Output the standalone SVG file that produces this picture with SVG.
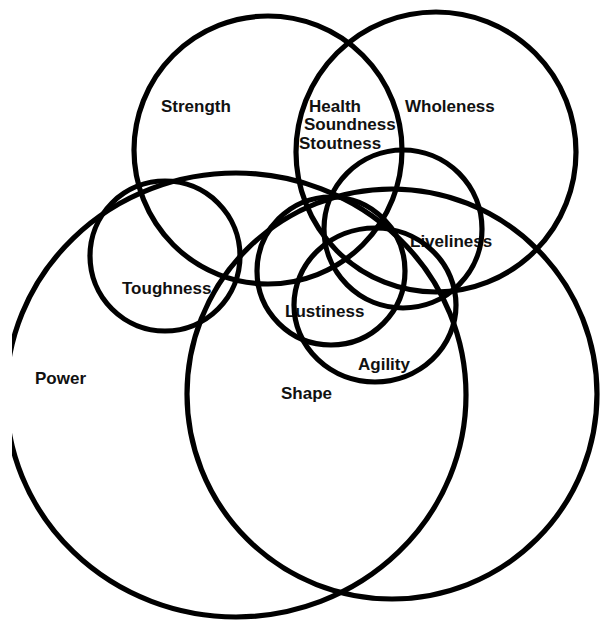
<svg xmlns="http://www.w3.org/2000/svg" width="601" height="620" viewBox="0 0 601 620">
<style>
.c{fill:none;stroke:#000;stroke-width:5.2}
.t{font-family:"Liberation Sans",Arial,sans-serif;font-weight:bold;font-size:17px;fill:#111}
</style>
<rect width="601" height="620" fill="#fff"/>
<g id="labels">
<text class="t" x="161" y="112">Strength</text>
<text class="t" x="309" y="112">Health</text>
<text class="t" x="304" y="130">Soundness</text>
<text class="t" x="299" y="149">Stoutness</text>
<text class="t" x="405" y="112">Wholeness</text>
<text class="t" x="410" y="247">Liveliness</text>
<text class="t" x="122" y="294">Toughness</text>
<text class="t" x="285" y="317">Lustiness</text>
<text class="t" x="358" y="370">Agility</text>
<text class="t" x="35" y="384">Power</text>
<text class="t" x="281" y="399">Shape</text>
</g>
<g id="power"><ellipse class="c" cx="236" cy="395" rx="230" ry="222"/></g>
<g id="shape"><circle class="c" cx="392" cy="394" r="205"/></g>
<g id="strength"><circle class="c" cx="268" cy="150" r="134"/></g>
<g id="wholeness"><circle class="c" cx="436" cy="152" r="140"/></g>
<g id="toughness"><circle class="c" cx="165" cy="256" r="75"/></g>
<g id="liveliness"><circle class="c" cx="403" cy="229" r="79"/></g>
<g id="lustiness"><circle class="c" cx="331" cy="271" r="74"/></g>
<g id="agility"><ellipse class="c" cx="375" cy="305" rx="81" ry="77"/></g>
<rect x="0" y="0" width="12" height="620" fill="#fff"/>
</svg>
